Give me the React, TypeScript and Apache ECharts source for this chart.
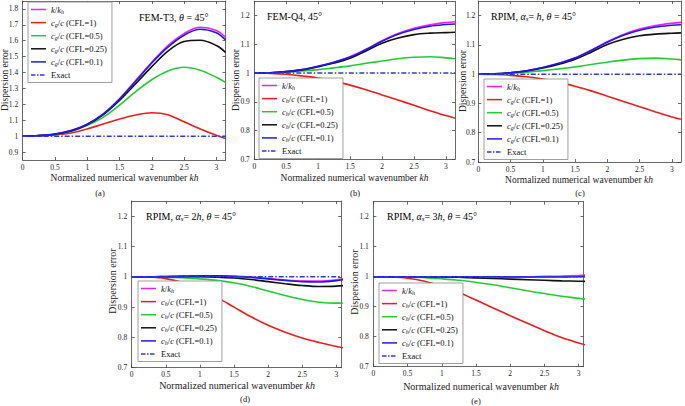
import React, { useEffect, useRef } from "react";
import * as echarts from "echarts";

const KH = [0, 0.25, 0.5, 0.75, 1.0, 1.25, 1.5, 1.75, 2.0, 2.25, 2.5, 2.75, 3.0, 3.1416];

// (a) FEM-T3
const A_K = [1, 1.003, 1.013, 1.035, 1.075, 1.14, 1.235, 1.35, 1.465, 1.57, 1.645, 1.685, 1.665, 1.622];
const A_C1 = [1, 1.002, 1.008, 1.02, 1.045, 1.077, 1.108, 1.133, 1.147, 1.135, 1.09, 1.045, 1.005, 0.985];
const A_C05 = [1, 1.003, 1.011, 1.03, 1.068, 1.12, 1.195, 1.28, 1.355, 1.41, 1.433, 1.415, 1.37, 1.338];
const A_C025 = [1, 1.003, 1.012, 1.033, 1.072, 1.135, 1.225, 1.33, 1.437, 1.535, 1.595, 1.603, 1.57, 1.527];
const A_C01 = [1, 1.003, 1.013, 1.035, 1.075, 1.14, 1.233, 1.345, 1.46, 1.56, 1.635, 1.672, 1.65, 1.605];

// (b) FEM-Q4
const B_K = [1, 1.001, 1.005, 1.012, 1.024, 1.038, 1.057, 1.083, 1.113, 1.138, 1.156, 1.168, 1.176, 1.179];
const B_C1 = [1, 0.999, 0.996, 0.99, 0.983, 0.972, 0.958, 0.942, 0.924, 0.906, 0.888, 0.869, 0.852, 0.843];
const B_C05 = [1, 1.0, 1.003, 1.007, 1.012, 1.018, 1.025, 1.034, 1.042, 1.05, 1.055, 1.057, 1.053, 1.05];
const B_C025 = [1, 1.001, 1.005, 1.011, 1.022, 1.035, 1.052, 1.077, 1.104, 1.122, 1.134, 1.139, 1.141, 1.142];
const B_C01 = [1, 1.001, 1.005, 1.012, 1.024, 1.038, 1.056, 1.082, 1.111, 1.135, 1.152, 1.163, 1.169, 1.171];

// (c) RPIM, alpha_s = h
const C_K = [1, 1.001, 1.005, 1.012, 1.023, 1.037, 1.056, 1.082, 1.111, 1.136, 1.154, 1.166, 1.174, 1.177];
const C_C1 = [1, 0.999, 0.996, 0.991, 0.983, 0.972, 0.959, 0.943, 0.925, 0.907, 0.889, 0.871, 0.854, 0.846];
const C_C05 = [1, 1.0, 1.003, 1.007, 1.012, 1.018, 1.025, 1.033, 1.041, 1.048, 1.053, 1.055, 1.052, 1.049];
const C_C025 = [1, 1.001, 1.005, 1.011, 1.021, 1.034, 1.051, 1.075, 1.101, 1.119, 1.131, 1.137, 1.14, 1.141];
const C_C01 = [1, 1.001, 1.005, 1.012, 1.023, 1.037, 1.055, 1.081, 1.109, 1.133, 1.15, 1.161, 1.167, 1.169];

// (d) RPIM, alpha_s = 2h
const D_K = [1, 1.0, 1.001, 1.002, 1.003, 1.003, 1.002, 0.999, 0.994, 0.989, 0.986, 0.986, 0.99, 0.995];
const D_C1 = [1, 0.999, 0.994, 0.981, 0.96, 0.932, 0.9, 0.868, 0.84, 0.817, 0.798, 0.783, 0.77, 0.764];
const D_C05 = [1, 1.0, 0.999, 0.997, 0.993, 0.988, 0.98, 0.968, 0.953, 0.938, 0.925, 0.916, 0.913, 0.914];
const D_C025 = [1, 1.0, 1.0, 1.0, 1.0, 0.999, 0.996, 0.991, 0.984, 0.977, 0.971, 0.968, 0.969, 0.972];
const D_C01 = [1, 1.0, 1.001, 1.002, 1.003, 1.003, 1.001, 0.998, 0.993, 0.988, 0.984, 0.983, 0.987, 0.992];

// (e) RPIM, alpha_s = 3h
const E_K = [1, 1, 1, 1, 1, 1, 1, 1, 1, 1, 1.001, 1.002, 1.004, 1.006];
const E_C1 = [1, 0.999, 0.995, 0.985, 0.968, 0.947, 0.922, 0.896, 0.87, 0.845, 0.82, 0.797, 0.779, 0.77];
const E_C05 = [1, 1.0, 0.999, 0.997, 0.993, 0.988, 0.981, 0.973, 0.963, 0.953, 0.944, 0.935, 0.928, 0.924];
const E_C025 = [1, 1, 1, 1, 0.999, 0.998, 0.996, 0.994, 0.992, 0.99, 0.988, 0.986, 0.985, 0.984];
const E_C01 = [1, 1, 1, 1, 1, 1, 1, 1, 0.999, 0.999, 0.999, 0.999, 1.0, 1.001];

const EXACT_X = [0, 3.1416];
const EXACT_Y = [1, 1];

const X_TICKS = [0, 0.5, 1, 1.5, 2, 2.5, 3];
const Y_TICKS_A = [0.9, 1, 1.1, 1.2, 1.3, 1.4, 1.5, 1.6, 1.7, 1.8];
const Y_TICKS_B = [0.7, 0.8, 0.9, 1, 1.1, 1.2];

const SERIES_NAMES = ["k/kh", "CFL=1", "CFL=0.5", "CFL=0.25", "CFL=0.1", "Exact"];
const COLORS = ["#ee22ee", "#ee1c1c", "#22cc33", "#111111", "#1a1aee", "#2a3ae0"];

const SERIF = "'Liberation Serif', 'Times New Roman', serif";

const PANELS = [
  {
    grid: { left: 22.7, top: 1, width: 202.8, height: 159 },
    yMin: 0.85, yMax: 1.85, yTicks: Y_TICKS_A, xMax: 3.1416,
    data: [A_K, A_C1, A_C05, A_C025, A_C01], sub: "g",
    legend: { left: 28, top: 2 },
    note: { x: 139, y: 17, text: "{n|FEM-T3, }{i|θ}{n| = 45°}" },
    tag: { x: 100, y: 193, text: "(a)" },
    xName: { x: 124.5, y: 178 }, yName: { x: 5, y: 80 }, nameSize: 9.5, labMargin: 4.5,
  },
  {
    grid: { left: 254.3, top: 1.3, width: 200.7, height: 157.9 },
    yMin: 0.7, yMax: 1.25, yTicks: Y_TICKS_B, xMax: 3.1416,
    data: [B_K, B_C1, B_C05, B_C025, B_C01], sub: "h",
    legend: { left: 259, top: 78 },
    note: { x: 267, y: 16, text: "{n|FEM-Q4, 45°}" },
    tag: { x: 355, y: 193, text: "(b)" },
    xName: { x: 354.5, y: 177.5 }, yName: { x: 235.5, y: 80 }, nameSize: 9.5, labMargin: 4.5,
  },
  {
    grid: { left: 478.3, top: 1, width: 202.7, height: 161 },
    yMin: 0.7, yMax: 1.25, yTicks: Y_TICKS_B, xMax: 3.1416,
    data: [C_K, C_C1, C_C05, C_C025, C_C01], sub: "g",
    legend: { left: 484, top: 79 },
    note: { x: 491, y: 16, text: "{n|RPIM, }{i|α}{s|s}{n|= }{i|h}{n|, }{i|θ}{n| = 45°}" },
    tag: { x: 580, y: 193, text: "(c)" },
    xName: { x: 579, y: 180 }, yName: { x: 462.5, y: 81 }, nameSize: 9.5, labMargin: 3,
  },
  {
    grid: { left: 131.7, top: 201, width: 209.5, height: 166.7 },
    yMin: 0.7, yMax: 1.25, yTicks: Y_TICKS_B, xMax: 3.07,
    data: [D_K, D_C1, D_C05, D_C025, D_C01], sub: "h",
    legend: { left: 138, top: 281 },
    note: { x: 146, y: 216, text: "{n|RPIM, }{i|α}{s|s}{n|= 2}{i|h}{n|, }{i|θ}{n| = 45°}" },
    tag: { x: 245, y: 399, text: "(d)" },
    xName: { x: 237, y: 385.5 }, yName: { x: 112.5, y: 281 }, nameSize: 10, labMargin: 4.5,
  },
  {
    grid: { left: 373.3, top: 201.7, width: 210.2, height: 165 },
    yMin: 0.7, yMax: 1.25, yTicks: Y_TICKS_B, xMax: 3.07,
    data: [E_K, E_C1, E_C05, E_C025, E_C01], sub: "h",
    legend: { left: 379, top: 283 },
    note: { x: 387, y: 216, text: "{n|RPIM, }{i|α}{s|s}{n|= 3}{i|h}{n|, }{i|θ}{n| = 45°}" },
    tag: { x: 476, y: 401, text: "(e)" },
    xName: { x: 481, y: 386 }, yName: { x: 354, y: 282 }, nameSize: 10, labMargin: 4.5,
  },
];

const AX = "#444";
const LINE_ICON = "path://M0,0h20v2h-20z";
const DASHDOT_ICON = "path://M0,0h6v2h-6z M8,0h2v2h-2z M12,0h6v2h-6z M20,0h0.01v2h-0.01z";

function legendLabels(sub: string): Record<string, string> {
  const c = `{i|c}{s|${sub}}{n|/}{i|c}`;
  return {
    "k/kh": "{i|k}{n|/}{i|k}{s|h}",
    "CFL=1": `${c}{n| (CFL=1)}`,
    "CFL=0.5": `${c}{n| (CFL=0.5)}`,
    "CFL=0.25": `${c}{n| (CFL=0.25)}`,
    "CFL=0.1": `${c}{n| (CFL=0.1)}`,
    Exact: "{n|Exact}",
  };
}

const LEG_RICH = {
  n: { fontFamily: SERIF, fontSize: 8.5, fontWeight: "normal", lineHeight: 10, color: "#111" },
  i: { fontFamily: SERIF, fontSize: 8.5, fontWeight: "normal", fontStyle: "italic", lineHeight: 10, color: "#111" },
  s: { fontFamily: SERIF, fontSize: 6, fontWeight: "normal", fontStyle: "italic", lineHeight: 4, verticalAlign: "bottom", color: "#111" },
};

function nameRich(size: number) {
  return {
    n: { fontFamily: SERIF, fontSize: size, fontWeight: "normal", fill: "#222" },
    i: { fontFamily: SERIF, fontSize: size, fontWeight: "normal", fontStyle: "italic", fill: "#222" },
  };
}

const NOTE_RICH = {
  n: { fontFamily: SERIF, fontSize: 10, fontWeight: "normal", lineHeight: 12, color: "#111" },
  i: { fontFamily: SERIF, fontSize: 10, fontWeight: "normal", fontStyle: "italic", lineHeight: 12, color: "#111" },
  s: { fontFamily: SERIF, fontSize: 7, fontWeight: "normal", fontStyle: "italic", lineHeight: 5, verticalAlign: "bottom", color: "#111" },
};

function buildOption() {
  const grid: any[] = [];
  const xAxis: any[] = [];
  const yAxis: any[] = [];
  const series: any[] = [];
  const legend: any[] = [];
  const graphic: any[] = [];

  PANELS.forEach((p, pi) => {
    grid.push({ ...p.grid, containLabel: false });
    const tickStyle = { color: AX, width: 0.8 };
    const tickLabel = { fontFamily: SERIF, fontSize: 7.5, fontWeight: "normal", color: "#222", margin: p.labMargin };
    xAxis.push({
      gridIndex: pi, type: "value", min: 0, max: p.xMax, position: "bottom",
      axisLine: { show: true, onZero: false, lineStyle: tickStyle },
      axisTick: { show: true, inside: true, length: 3, customValues: X_TICKS, lineStyle: tickStyle },
      axisLabel: { show: true, customValues: X_TICKS, ...tickLabel, margin: 3 },
      splitLine: { show: false },
    });
    xAxis.push({
      gridIndex: pi, type: "value", min: 0, max: p.xMax, position: "top",
      axisLine: { show: true, onZero: false, lineStyle: tickStyle },
      axisTick: { show: true, inside: true, length: 3, customValues: X_TICKS, lineStyle: tickStyle },
      axisLabel: { show: false },
      splitLine: { show: false },
    });
    yAxis.push({
      gridIndex: pi, type: "value", min: p.yMin, max: p.yMax, position: "left",
      axisLine: { show: true, onZero: false, lineStyle: tickStyle },
      axisTick: { show: true, inside: true, length: 3, customValues: p.yTicks, lineStyle: tickStyle },
      axisLabel: { show: true, customValues: p.yTicks, ...tickLabel },
      splitLine: { show: false },
    });
    yAxis.push({
      gridIndex: pi, type: "value", min: p.yMin, max: p.yMax, position: "right",
      axisLine: { show: true, onZero: false, lineStyle: tickStyle },
      axisTick: { show: true, inside: true, length: 3, customValues: p.yTicks, lineStyle: tickStyle },
      axisLabel: { show: false },
      splitLine: { show: false },
    });

    const xi = pi * 2;
    p.data.forEach((vals, si) => {
      series.push({
        type: "line", name: SERIES_NAMES[si], xAxisIndex: xi, yAxisIndex: xi,
        data: KH.map((x, k) => [x, vals[k]]),
        smooth: 0.35, showSymbol: false, symbol: "none",
        lineStyle: { color: COLORS[si], width: 1.6 },
        itemStyle: { color: COLORS[si] },
        clip: true, z: 2 + si * 0.01,
      });
    });
    series.push({
      type: "line", name: "Exact", xAxisIndex: xi, yAxisIndex: xi,
      data: EXACT_X.map((x, k) => [x, EXACT_Y[k]]),
      showSymbol: false, symbol: "none",
      lineStyle: { color: COLORS[5], width: 1.5, type: [5, 2, 1.5, 2] },
      itemStyle: { color: COLORS[5] },
      clip: true, z: 3,
    });

    const labels = legendLabels(p.sub);
    legend.push({
      orient: "vertical", left: p.legend.left, top: p.legend.top,
      itemWidth: 15, itemHeight: 2, itemGap: 3.6,
      padding: [3, 5, 3, 3],
      borderColor: "#888", borderWidth: 0.8, backgroundColor: "#fff",
      data: SERIES_NAMES.map((n, k) => ({
        name: n,
        icon: k === 5 ? DASHDOT_ICON : LINE_ICON,
        itemStyle: { color: COLORS[k], borderWidth: 0 },
      })),
      selectedMode: false,
      formatter: (n: string) => labels[n],
      textStyle: { fontFamily: SERIF, fontSize: 8.5, fontWeight: "normal", color: "#111", rich: LEG_RICH },
    });

    graphic.push({
      type: "text", x: p.note.x, y: p.note.y, z: 10,
      style: { text: p.note.text, rich: NOTE_RICH, verticalAlign: "middle", align: "left", fontFamily: SERIF, fontSize: 10 },
    });
    graphic.push({
      type: "text", x: p.tag.x, y: p.tag.y, z: 10,
      style: { text: p.tag.text, fontFamily: SERIF, fontSize: 8.5, fill: "#111", verticalAlign: "middle", align: "center" },
    });
    graphic.push({
      type: "text", x: p.xName.x, y: p.xName.y, z: 10,
      style: {
        text: "{n|Normalized numerical wavenumber }{i|kh}", rich: nameRich(p.nameSize),
        fontFamily: SERIF, fontSize: p.nameSize, fill: "#222", verticalAlign: "middle", align: "center",
      },
    });
    graphic.push({
      type: "text", x: p.yName.x, y: p.yName.y, z: 10, rotation: Math.PI / 2,
      style: {
        text: "Dispersion error", fontFamily: SERIF, fontSize: p.nameSize, fill: "#222",
        verticalAlign: "middle", align: "center",
      },
    });
  });

  return {
    animation: false,
    backgroundColor: "#fff",
    grid, xAxis, yAxis, series, legend, graphic,
  };
}

export default function App() {
  const ref = useRef<HTMLDivElement>(null);
  useEffect(() => {
    if (!ref.current) return;
    const chart = echarts.init(ref.current, undefined, { renderer: "svg" });
    chart.setOption(buildOption() as any);
    return () => chart.dispose();
  }, []);
  return (
    <div
      ref={ref}
      style={{ position: "absolute", left: 0, top: 0, width: 685, height: 406, background: "#fff" }}
    />
  );
}
